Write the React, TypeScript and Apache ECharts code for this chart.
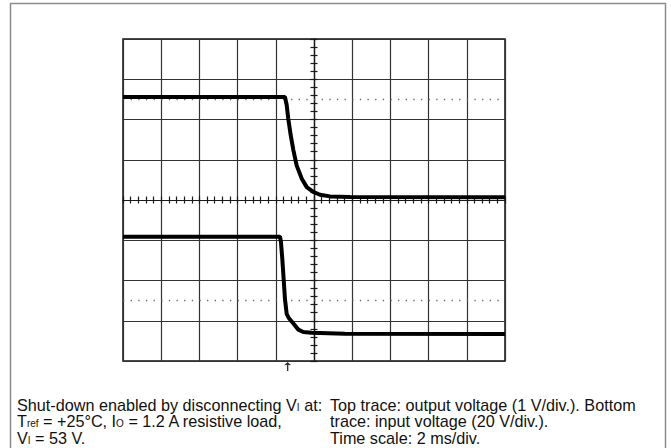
import React, { useEffect, useRef } from "react";
import * as echarts from "echarts";

// Time in ms (2 ms/div), vertical position in divisions
const topTimeMs = [-10, -1.52, -1.43, -1.35, -1.22, -1.08, -0.91, -0.64, -0.38, -0.04, 0.31, 0.84, 1.88, 10];
const topDiv = [2.56, 2.56, 2.36, 2.03, 1.61, 1.24, 0.86, 0.53, 0.32, 0.2, 0.13, 0.09, 0.075, 0.07];

const bottomTimeMs = [-10, -1.78, -1.73, -1.66, -1.59, -1.52, -1.43, -1.31, -1.08, -0.82, -0.56, -0.12, 1.62, 10];
const bottomDiv = [-0.91, -0.91, -1.045, -1.46, -1.96, -2.46, -2.83, -2.94, -3.07, -3.22, -3.28, -3.3, -3.32, -3.33];

const referenceLevels = [2.5, -2.5];
const triggerTimeMs = -1.38;

const xMin = -10;
const xMax = 10;
const xStep = 2;
const yMin = -4;
const yMax = 4;
const yStep = 1;

const leftLines = [
  "Shut-down enabled by disconnecting V{s|I} at:",
  "T{s|ref} = +25°C, I{s|O} = 1.2 A resistive load,",
  "V{s|I} = 53 V.",
];
const rightLines = [
  "Top trace: output voltage (1 V/div.). Bottom",
  "trace: input voltage (20 V/div.).",
  "Time scale: 2 ms/div.",
];

const FONT = "'Liberation Sans', Arial, Helvetica, sans-serif";

export default function App() {
  const ref = useRef<HTMLDivElement>(null);
  useEffect(() => {
    if (!ref.current) return;
    const chart = echarts.init(ref.current, null, { renderer: "svg" });
    const gridLeft = 123;
    const gridTop = 39;
    const gridW = 382;
    const gridH = 322;
    const minorPx = gridW / ((xMax - xMin) / xStep) / 5;

    const axisCommon = {
      type: "value" as const,
      axisLabel: { show: false },
      axisLine: { onZero: true, lineStyle: { color: "#1a1a1a", width: 1.2 } },
      axisTick: { show: true, length: 3.5, lineStyle: { color: "#1a1a1a", width: 1.2 } },
      minorTick: { show: true, splitNumber: 5, length: 3.5, lineStyle: { color: "#1a1a1a", width: 1.2 } },
      minorSplitLine: { show: false },
    };

    const lineY = 405;
    const lineGap = 16.3;
    const textStyleBase = {
      fontFamily: FONT,
      fontSize: 16.2,
      fill: "#111",
      verticalAlign: "middle",
      lineHeight: 15,
      rich: {
        s: { fontFamily: FONT, fontSize: 10, lineHeight: 6, verticalAlign: "bottom", fill: "#111" },
      },
    };

    const graphics: any[] = [
      {
        type: "rect",
        shape: { x: 10.5, y: 3.5, width: 655, height: 470 },
        style: { fill: "none", stroke: "#8c8c8c", lineWidth: 1.5 },
        silent: true,
      },
    ];
    leftLines.forEach((t, i) => {
      graphics.push({ type: "text", x: 17, y: lineY + i * lineGap, style: { ...textStyleBase, text: t } });
    });
    rightLines.forEach((t, i) => {
      graphics.push({ type: "text", x: 330, y: lineY + i * lineGap, style: { ...textStyleBase, text: t } });
    });

    chart.setOption({
      animation: false,
      backgroundColor: "#ffffff",
      grid: {
        left: gridLeft,
        top: gridTop,
        width: gridW,
        height: gridH,
        show: true,
        borderColor: "#111",
        borderWidth: 1.5,
        backgroundColor: "transparent",
      },
      xAxis: [
        {
          ...axisCommon,
          min: xMin,
          max: xMax,
          interval: xStep,
          position: "bottom",
          splitLine: { show: true, lineStyle: { color: "#333", width: 1.2 } },
        },
        {
          ...axisCommon,
          min: xMin,
          max: xMax,
          interval: xStep,
          position: "top",
          axisLine: { ...axisCommon.axisLine, onZeroAxisIndex: 0 },
          splitLine: { show: false },
        },
      ],
      yAxis: [
        {
          ...axisCommon,
          min: yMin,
          max: yMax,
          interval: yStep,
          position: "left",
          splitLine: { show: true, lineStyle: { color: "#333", width: 1.2 } },
        },
        {
          ...axisCommon,
          min: yMin,
          max: yMax,
          interval: yStep,
          position: "right",
          axisLine: { ...axisCommon.axisLine, onZeroAxisIndex: 0 },
          splitLine: { show: false },
        },
      ],
      graphic: graphics,
      series: [
        {
          type: "line",
          name: "Output voltage",
          data: topTimeMs.map((t, i) => [t, topDiv[i]]),
          showSymbol: false,
          symbol: "none",
          lineStyle: { color: "#000", width: 4 },
          z: 5,
          markLine: {
            silent: true,
            symbol: ["none", "none"],
            label: { show: false },
            lineStyle: { color: "#666", width: 1.3, type: [1.3, minorPx - 1.3] },
            data: referenceLevels.map((v) => ({ yAxis: v })),
            z: 1,
          },
        },
        {
          type: "line",
          name: "Input voltage",
          data: bottomTimeMs.map((t, i) => [t, bottomDiv[i]]),
          showSymbol: false,
          symbol: "none",
          lineStyle: { color: "#000", width: 4 },
          z: 5,
        },
        {
          type: "scatter",
          name: "Trigger",
          data: [[triggerTimeMs, yMin]],
          symbol: "path://M5,0 L10,5 L6,4.5 L6,14 L4,14 L4,4.5 L0,5 Z",
          symbolSize: [7, 9],
          symbolOffset: [0, 5.5],
          itemStyle: { color: "#000" },
          clip: false,
          z: 6,
        },
      ],
    });
    return () => chart.dispose();
  }, []);
  return (
    <div
      ref={ref}
      style={{ position: "fixed", left: 0, top: 0, width: 671, height: 448, background: "#fff" }}
    />
  );
}
